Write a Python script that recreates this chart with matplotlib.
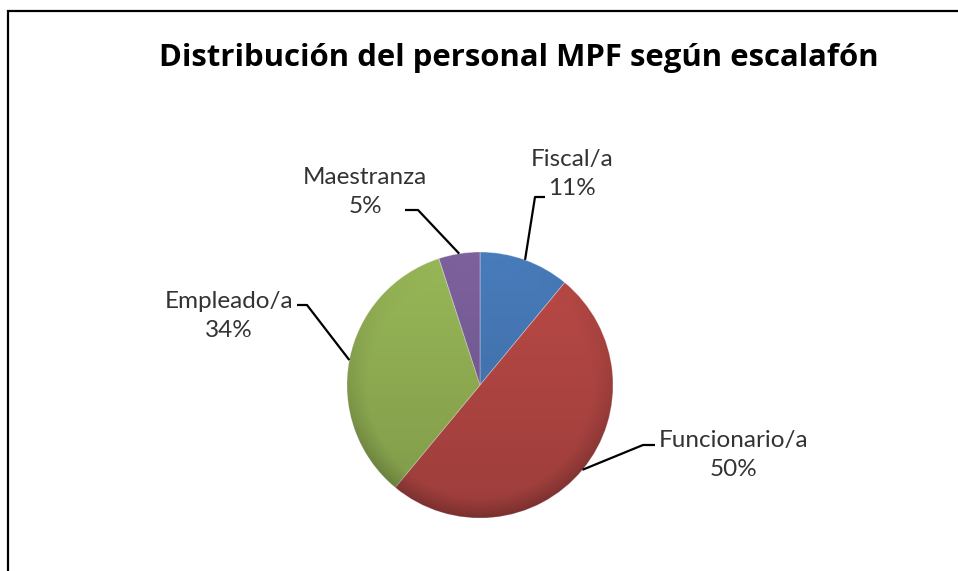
import numpy as np
import matplotlib
matplotlib.use("Agg")
import matplotlib.pyplot as plt
from matplotlib.patches import Rectangle, Circle

# ---- data ----
categories = ["Fiscal/a", "Funcionario/a", "Empleado/a", "Maestranza"]
values = [11, 50, 34, 5]
colors = ["#4A7EBF", "#BE4B48", "#9BBB59", "#7F63A1"]
title = "Distribución del personal MPF según escalafón"

W, H = 958, 571
fig = plt.figure(figsize=(W / 100, H / 100), dpi=100)
ax = fig.add_axes([0, 0, 1, 1])
ax.set_xlim(0, W)
ax.set_ylim(0, H)
ax.set_aspect("equal")
ax.axis("off")

# frame
fig.patches.append(Rectangle((8 / W, -0.1), 1.2, (H - 11) / H + 0.1, transform=fig.transFigure,
                             fill=False, edgecolor="black", linewidth=1.6))

cx, cy, R = 480, H - 385, 133
wedges, _ = ax.pie(values, colors=colors, startangle=90, counterclock=False,
                   center=(cx, cy), radius=R, frame=True,
                   wedgeprops=dict(linewidth=0.6, edgecolor=(1, 1, 1, 0.4)))
ax.set_xlim(0, W)
ax.set_ylim(0, H)
ax.axis("off")

# shading overlay (gradient)
yy, xx = np.mgrid[0:1:200j, 0:1:200j]
dx, dy = xx - 0.5, yy - 0.5
r = np.sqrt(dx ** 2 + dy ** 2) / 0.5
shade = np.zeros((200, 200, 4))
dark = np.clip(0.02 + 0.16 * yy + 0.2 * np.clip(r - 0.85, 0, 1) * 6 * yy, 0, 0.4)
shade[..., 3] = dark
im = ax.imshow(shade, extent=(cx - R, cx + R, cy - R, cy + R), origin="upper", zorder=3)
clip = Circle((cx, cy), R, transform=ax.transData)
im.set_clip_path(clip)

# labels with leader lines
label_pos = [(572, 174), (734, 455), (229, 316), (365, 192)]
elbows = [((535, 197), (545, 197)), ((643, 445), (655, 445)),
          ((307, 305), (297, 305)), ((418, 210), (405, 210))]
angles = []
a0 = 90
for v in values:
    a1 = a0 - v / sum(values) * 360
    angles.append((a0 + a1) / 2)
    a0 = a1
for cat, v, ang, (lx, ly), (e1, e2) in zip(categories, values, angles, label_pos, elbows):
    sx = cx + R * np.cos(np.radians(ang))
    sy = cy + R * np.sin(np.radians(ang))
    ax.plot([sx, e1[0], e2[0]], [sy, H - e1[1], H - e2[1]], color="black", lw=1.6,
            solid_capstyle="butt", zorder=4)
    ax.text(lx, H - ly, f"{cat}\n{v}%", ha="center", va="center", fontsize=17.5,
            family="Lato", color="#333333", linespacing=1.45, zorder=5)

ax.text(519, H - 58, title, ha="center", va="center", fontsize=22.4,
        family="Open Sans", fontweight="bold", color="black")

fig.savefig("out.png", dpi=100)
